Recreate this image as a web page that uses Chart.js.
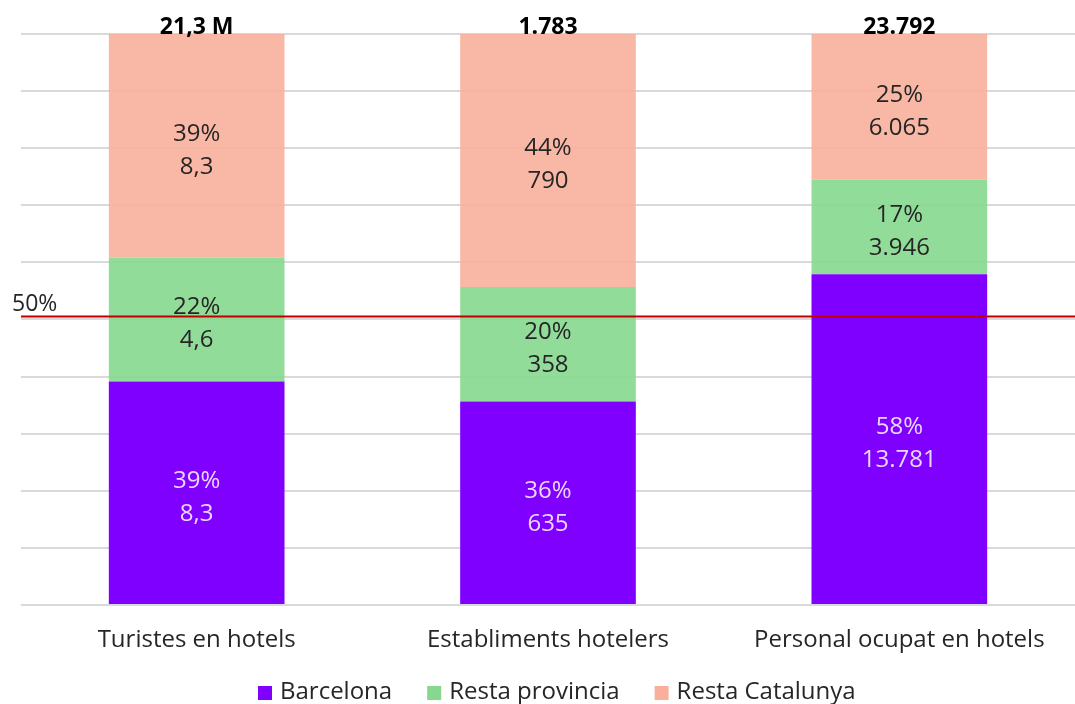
<!DOCTYPE html>
<html>
<head>
<meta charset="utf-8">
<script src="https://cdn.jsdelivr.net/npm/chart.js@4.4.1/dist/chart.umd.min.js"></script>
<style>
  html, body { margin: 0; padding: 0; background: #fff; }
  #wrap { width: 1075px; height: 704px; }
</style>
</head>
<body>
<div id="wrap"><canvas id="chart"></canvas></div>
<script>
// categories and values
const categories = ['Turistes en hotels', 'Establiments hotelers', 'Personal ocupat en hotels'];
const barcelona = [8.3, 635, 13781];
const restaProvincia = [4.6, 358, 3946];
const restaCatalunya = [8.3, 790, 6065];
const totalLabels = ['21,3 M', '1.783', '23.792'];
const decimals = [1, 0, 0];
const referenceLine = 50;

const series = [
  { label: 'Barcelona', values: barcelona, color: '#8000ff', text: '#ead6ff' },
  { label: 'Resta provincia', values: restaProvincia, color: 'rgba(134,216,142,0.9)', text: '#262626' },
  { label: 'Resta Catalunya', values: restaCatalunya, color: 'rgba(248,175,155,0.9)', text: '#262626' }
];

// share of each segment in its bar
const sums = categories.map((c, i) => series.reduce((s, d) => s + d.values[i], 0));
const share = (v, i) => v / sums[i] * 100;

function fmt(v, i) {
  return v.toLocaleString('de-DE', { minimumFractionDigits: decimals[i], maximumFractionDigits: decimals[i] });
}

const FONT = "'Open Sans', 'Noto Sans', sans-serif";

// etiquetes dins les barres, totals, línia del 50% i llegenda
const labelsPlugin = {
  id: 'labelsPlugin',
  afterDatasetsDraw(chart) {
    const ctx = chart.ctx;
    const y = chart.scales.y;
    const area = chart.chartArea;

    // línia vermella 50%
    const yy = y.getPixelForValue(referenceLine);
    ctx.save();
    ctx.strokeStyle = '#c00000';
    ctx.lineWidth = 2;
    ctx.beginPath();
    ctx.moveTo(area.left, yy - 3);
    ctx.lineTo(area.right, yy - 3);
    ctx.stroke();
    ctx.fillStyle = '#262626';
    ctx.font = '23px ' + FONT;
    ctx.textAlign = 'left';
    ctx.textBaseline = 'alphabetic';
    ctx.fillText(referenceLine + '%', 12, yy - 8);

    ctx.textAlign = 'center';
    ctx.textBaseline = 'middle';
    chart.data.datasets.forEach((ds, di) => {
      const meta = chart.getDatasetMeta(di);
      meta.data.forEach((bar, i) => {
        const v = series[di].values[i];
        const cy = (bar.y + bar.base) / 2;
        ctx.fillStyle = series[di].text;
        ctx.font = '24px ' + FONT;
        ctx.fillText(Math.round(share(v, i)) + '%', bar.x, cy - 12);
        ctx.fillText(fmt(v, i), bar.x, cy + 21);
      });
    });

    // totals a dalt
    const top = chart.getDatasetMeta(0).data;
    ctx.fillStyle = '#000';
    ctx.font = 'bold 23px ' + FONT;
    top.forEach((bar, i) => {
      ctx.fillText(totalLabels[i], bar.x, area.top - 7);
    });

    // llegenda
    ctx.font = '24px ' + FONT;
    ctx.textAlign = 'left';
    let lx = 258;
    const ly = 692;
    series.forEach(s => {
      ctx.fillStyle = s.color.startsWith('rgba') ? s.color.replace(/,[\d.]+\)$/, ',1)') : s.color;
      ctx.fillRect(lx, ly - 6, 14, 14);
      ctx.fillStyle = '#262626';
      ctx.fillText(s.label, lx + 22, ly);
      lx += 22 + ctx.measureText(s.label).width + 35;
    });
    ctx.restore();
  }
};

new Chart(document.getElementById('chart'), {
  type: 'bar',
  data: {
    labels: categories,
    datasets: series.map(s => ({
      label: s.label,
      data: s.values.map((v, i) => share(v, i)),
      backgroundColor: s.color,
      borderWidth: 0,
      barPercentage: 0.5,
      categoryPercentage: 1
    }))
  },
  options: {
    responsive: true,
    maintainAspectRatio: false,
    animation: false,
    layout: { padding: { left: 21, right: -3, top: 34, bottom: 37 } },
    scales: {
      x: {
        stacked: true,
        grid: { display: false },
        border: { display: false },
        ticks: { color: '#262626', font: { family: FONT, size: 24, lineHeight: 0.42 }, padding: 22 }
      },
      y: {
        stacked: true,
        min: 0,
        max: 100,
        ticks: { display: false, stepSize: 10 },
        grid: { color: '#d9d9d9', lineWidth: 2, drawTicks: false },
        border: { display: false }
      }
    },
    plugins: {
      legend: { display: false },
      tooltip: { enabled: false }
    }
  },
  plugins: [labelsPlugin]
});
</script>
</body>
</html>
